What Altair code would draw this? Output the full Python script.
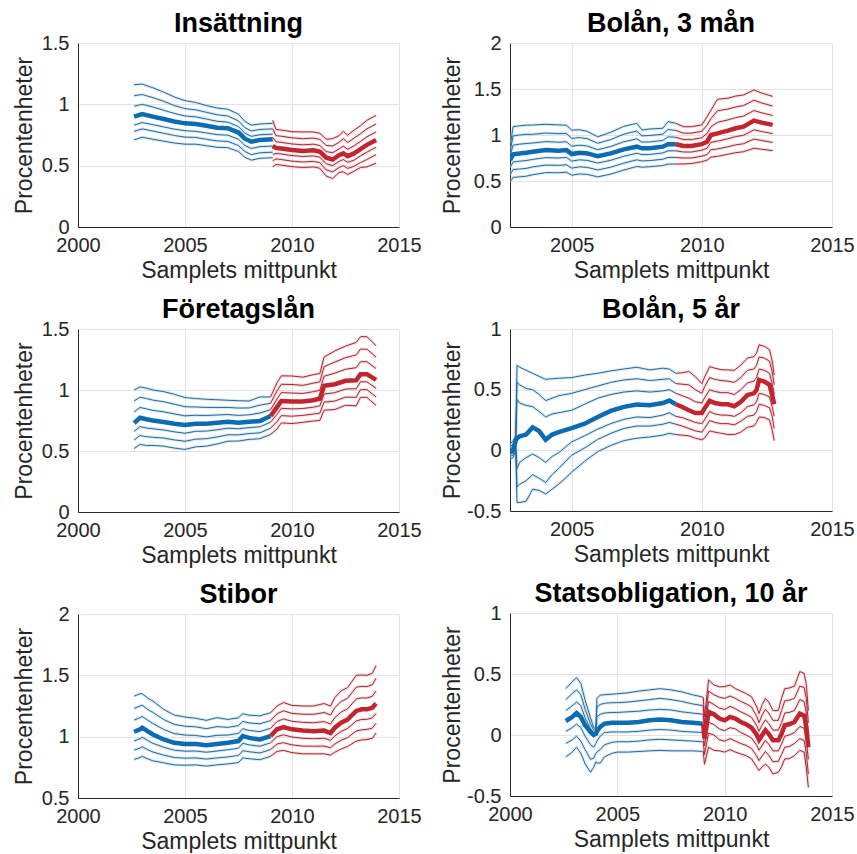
import altair as alt
import pandas as pd

FONT = "Liberation Sans"
BLUE_MID, RED_MID = "#0b6cb2", "#c1262f"
BLUE_LINE, RED_LINE = "#2c6894", "#a02a37"
BLUE_HALO, RED_HALO = "#a9d3ee", "#f1b4ba"

# ---------------- Insättning (band lines as offsets from the median) ----------------
ins_b_t = [2002.62, 2003.0, 2003.5, 2004.0, 2004.5, 2005.0, 2005.5, 2006.0, 2006.5, 2007.0, 2007.5, 2007.8, 2008.1, 2008.5, 2009.1]
ins_b_mid = [0.90, 0.92, 0.90, 0.88, 0.86, 0.845, 0.84, 0.825, 0.81, 0.805, 0.77, 0.72, 0.695, 0.71, 0.715]
ins_b_bands = [
    [0.26, 0.245, 0.235, 0.22, 0.2, 0.185, 0.175, 0.165, 0.16, 0.155, 0.15, 0.14, 0.135, 0.13, 0.13],
    [0.17, 0.16, 0.155, 0.145, 0.13, 0.12, 0.115, 0.11, 0.105, 0.1, 0.095, 0.09, 0.088, 0.085, 0.085],
    [0.085, 0.08, 0.078, 0.072, 0.066, 0.06, 0.058, 0.055, 0.052, 0.05, 0.048, 0.045, 0.044, 0.042, 0.042],
    [-0.07, -0.068, -0.066, -0.064, -0.062, -0.06, -0.06, -0.058, -0.057, -0.056, -0.055, -0.055, -0.055, -0.055, -0.055],
    [-0.12, -0.12, -0.118, -0.116, -0.114, -0.112, -0.11, -0.11, -0.108, -0.107, -0.106, -0.105, -0.105, -0.105, -0.105],
    [-0.19, -0.188, -0.185, -0.18, -0.175, -0.17, -0.165, -0.162, -0.16, -0.158, -0.155, -0.152, -0.15, -0.15, -0.15],
]
ins_r_t = [2009.1, 2009.25, 2009.5, 2010.0, 2010.5, 2011.0, 2011.3, 2011.6, 2011.9, 2012.2, 2012.4, 2012.6, 2012.9, 2013.2, 2013.5, 2013.93]
ins_r_mid = [0.66, 0.645, 0.64, 0.627, 0.62, 0.625, 0.614, 0.565, 0.55, 0.585, 0.6, 0.578, 0.6, 0.635, 0.67, 0.71]
ins_r_bands = [
    [0.21, 0.15, 0.15, 0.15, 0.155, 0.15, 0.15, 0.15, 0.17, 0.16, 0.18, 0.17, 0.19, 0.19, 0.2, 0.2],
    [0.14, 0.1, 0.1, 0.1, 0.1, 0.1, 0.1, 0.1, 0.11, 0.105, 0.12, 0.11, 0.125, 0.125, 0.13, 0.13],
    [0.07, 0.05, 0.05, 0.05, 0.05, 0.05, 0.05, 0.05, 0.055, 0.052, 0.06, 0.055, 0.062, 0.062, 0.065, 0.065],
    [-0.07, -0.045, -0.045, -0.045, -0.045, -0.045, -0.045, -0.05, -0.05, -0.05, -0.05, -0.05, -0.055, -0.055, -0.06, -0.06],
    [-0.12, -0.09, -0.09, -0.09, -0.09, -0.09, -0.09, -0.1, -0.1, -0.1, -0.1, -0.1, -0.105, -0.11, -0.12, -0.12],
    [-0.17, -0.135, -0.135, -0.135, -0.135, -0.135, -0.135, -0.15, -0.155, -0.14, -0.15, -0.15, -0.145, -0.15, -0.18, -0.19],
]

# ---------------- Bolån, 3 mån (offsets) ----------------
b3_b_t = [2002.63, 2002.75, 2003.0, 2003.25, 2003.5, 2004.0, 2004.5, 2004.8, 2005.0, 2005.3, 2005.6, 2006.0, 2006.5, 2007.0, 2007.5, 2007.7, 2008.0, 2008.5, 2008.7, 2009.0]
b3_b_mid = [0.727, 0.79, 0.8, 0.807, 0.818, 0.836, 0.83, 0.836, 0.793, 0.807, 0.8, 0.77, 0.8, 0.844, 0.873, 0.855, 0.855, 0.873, 0.9, 0.9]
b3_b_bands = [
    [0.14, 0.3, 0.3, 0.3, 0.29, 0.28, 0.28, 0.27, 0.26, 0.25, 0.24, 0.21, 0.23, 0.25, 0.254, 0.2, 0.21, 0.2, 0.245, 0.227],
    [0.09, 0.2, 0.2, 0.2, 0.19, 0.185, 0.185, 0.18, 0.17, 0.165, 0.16, 0.14, 0.15, 0.165, 0.17, 0.135, 0.14, 0.135, 0.16, 0.15],
    [0.045, 0.1, 0.1, 0.1, 0.095, 0.092, 0.092, 0.09, 0.085, 0.082, 0.08, 0.07, 0.075, 0.082, 0.085, 0.068, 0.07, 0.068, 0.08, 0.075],
    [-0.08, -0.083, -0.085, -0.085, -0.083, -0.082, -0.08, -0.08, -0.077, -0.077, -0.076, -0.075, -0.075, -0.075, -0.072, -0.068, -0.067, -0.068, -0.072, -0.072],
    [-0.16, -0.165, -0.17, -0.17, -0.165, -0.163, -0.16, -0.16, -0.153, -0.153, -0.152, -0.15, -0.15, -0.15, -0.143, -0.137, -0.133, -0.137, -0.144, -0.144],
    [-0.24, -0.25, -0.255, -0.255, -0.25, -0.245, -0.24, -0.24, -0.23, -0.23, -0.228, -0.225, -0.225, -0.225, -0.215, -0.205, -0.2, -0.205, -0.216, -0.216],
]
b3_r_t = [2009.0, 2009.3, 2009.6, 2010.0, 2010.2, 2010.35, 2010.6, 2011.0, 2011.3, 2011.6, 2012.0, 2012.3, 2012.72]
b3_r_mid = [0.9, 0.88, 0.88, 0.9, 0.927, 1.0, 1.018, 1.047, 1.073, 1.09, 1.156, 1.135, 1.11]
b3_r_bands = [
    [0.227, 0.21, 0.21, 0.21, 0.27, 0.27, 0.37, 0.353, 0.35, 0.345, 0.334, 0.32, 0.31],
    [0.15, 0.14, 0.14, 0.14, 0.18, 0.18, 0.245, 0.235, 0.232, 0.23, 0.222, 0.213, 0.205],
    [0.075, 0.07, 0.07, 0.07, 0.09, 0.09, 0.12, 0.117, 0.116, 0.115, 0.11, 0.106, 0.102],
    [-0.072, -0.065, -0.065, -0.065, -0.07, -0.08, -0.085, -0.088, -0.09, -0.093, -0.1, -0.097, -0.095],
    [-0.144, -0.13, -0.13, -0.13, -0.14, -0.16, -0.17, -0.175, -0.18, -0.185, -0.2, -0.195, -0.19],
    [-0.216, -0.195, -0.19, -0.19, -0.2, -0.24, -0.25, -0.257, -0.265, -0.272, -0.3, -0.29, -0.28],
]

# ---------------- Företagslån (offsets) ----------------
fl_b_t = [2002.62, 2002.9, 2003.2, 2003.5, 2004.0, 2004.5, 2005.0, 2005.5, 2006.0, 2006.5, 2007.0, 2007.5, 2008.0, 2008.5, 2009.0]
fl_b_mid = [0.73, 0.773, 0.76, 0.75, 0.738, 0.724, 0.713, 0.724, 0.724, 0.732, 0.74, 0.732, 0.74, 0.746, 0.787]
fl_b_bands = [
    [0.27, 0.252, 0.255, 0.25, 0.249, 0.241, 0.225, 0.206, 0.2, 0.188, 0.176, 0.18, 0.17, 0.197, 0.156],
    [0.18, 0.168, 0.17, 0.167, 0.166, 0.16, 0.15, 0.137, 0.133, 0.125, 0.117, 0.12, 0.113, 0.13, 0.104],
    [0.09, 0.084, 0.085, 0.083, 0.083, 0.08, 0.075, 0.069, 0.067, 0.063, 0.059, 0.06, 0.057, 0.065, 0.052],
    [-0.07, -0.073, -0.072, -0.068, -0.066, -0.067, -0.067, -0.063, -0.061, -0.058, -0.053, -0.05, -0.048, -0.048, -0.05],
    [-0.14, -0.146, -0.143, -0.137, -0.132, -0.133, -0.133, -0.127, -0.123, -0.117, -0.107, -0.1, -0.097, -0.097, -0.1],
    [-0.21, -0.219, -0.215, -0.205, -0.198, -0.2, -0.2, -0.19, -0.184, -0.175, -0.16, -0.15, -0.145, -0.145, -0.151],
]
fl_r_t = [2009.0, 2009.3, 2009.5, 2010.0, 2010.5, 2011.0, 2011.3, 2011.5, 2012.0, 2012.5, 2013.0, 2013.2, 2013.5, 2013.93]
fl_r_mid = [0.787, 0.86, 0.91, 0.905, 0.905, 0.916, 0.93, 1.034, 1.047, 1.075, 1.08, 1.13, 1.13, 1.083]
fl_r_bands = [
    [0.156, 0.2, 0.206, 0.21, 0.2, 0.21, 0.205, 0.236, 0.273, 0.285, 0.31, 0.307, 0.307, 0.28],
    [0.104, 0.133, 0.137, 0.14, 0.133, 0.14, 0.137, 0.157, 0.182, 0.19, 0.207, 0.205, 0.205, 0.187],
    [0.052, 0.067, 0.069, 0.07, 0.067, 0.07, 0.068, 0.079, 0.091, 0.095, 0.103, 0.102, 0.102, 0.093],
    [-0.05, -0.06, -0.06, -0.06, -0.057, -0.057, -0.06, -0.067, -0.069, -0.067, -0.07, -0.063, -0.063, -0.07],
    [-0.1, -0.12, -0.12, -0.12, -0.113, -0.113, -0.12, -0.133, -0.138, -0.133, -0.14, -0.127, -0.127, -0.14],
    [-0.151, -0.18, -0.18, -0.18, -0.17, -0.17, -0.18, -0.2, -0.207, -0.2, -0.21, -0.19, -0.19, -0.21],
]

# ---------------- Bolån, 5 år (band lines as read values) ----------------
b5_b_t = [2002.63, 2002.75, 2002.85, 2002.9, 2003.0, 2003.25, 2003.5, 2003.75, 2004.0, 2004.25, 2004.5, 2005.0, 2005.5, 2006.0, 2006.5, 2007.0, 2007.5, 2008.0, 2008.5, 2008.75, 2009.0]
b5_b_mid = [-0.015, 0.0, 0.08, 0.1, 0.115, 0.13, 0.19, 0.16, 0.087, 0.13, 0.15, 0.183, 0.22, 0.275, 0.325, 0.358, 0.378, 0.372, 0.39, 0.41, 0.38]
b5_b_bands = [
    [0.05, 0.08, 0.12, 0.70, 0.685, 0.66, 0.635, 0.61, 0.585, 0.59, 0.594, 0.60, 0.62, 0.635, 0.655, 0.67, 0.685, 0.663, 0.677, 0.67, 0.635],
    [0.03, 0.05, 0.1, 0.56, 0.54, 0.51, 0.5, 0.46, 0.41, 0.43, 0.45, 0.47, 0.5, 0.53, 0.56, 0.58, 0.59, 0.575, 0.585, 0.59, 0.55],
    [0.01, 0.03, 0.09, 0.42, 0.39, 0.37, 0.36, 0.32, 0.275, 0.3, 0.31, 0.33, 0.38, 0.43, 0.46, 0.48, 0.49, 0.48, 0.49, 0.5, 0.47],
    [-0.03, -0.02, 0.06, -0.15, -0.1, -0.06, -0.03, -0.06, -0.1, -0.05, -0.02, 0.07, 0.12, 0.175, 0.22, 0.255, 0.275, 0.27, 0.29, 0.31, 0.28],
    [-0.05, -0.04, 0.03, -0.3, -0.28, -0.25, -0.2, -0.23, -0.265, -0.2, -0.15, -0.04, 0.02, 0.09, 0.14, 0.18, 0.2, 0.2, 0.215, 0.23, 0.215],
    [-0.07, -0.06, 0.0, -0.43, -0.43, -0.42, -0.32, -0.33, -0.36, -0.32, -0.28, -0.18, -0.09, -0.01, 0.04, 0.08, 0.1, 0.11, 0.125, 0.14, 0.13],
]
b5_r_t = [2009.0, 2009.25, 2009.5, 2009.75, 2010.0, 2010.1, 2010.3, 2010.5, 2010.75, 2011.0, 2011.25, 2011.5, 2011.75, 2012.0, 2012.1, 2012.2, 2012.4, 2012.6, 2012.7, 2012.78]
b5_r_mid = [0.38, 0.357, 0.33, 0.308, 0.308, 0.344, 0.408, 0.39, 0.38, 0.38, 0.364, 0.4, 0.455, 0.47, 0.497, 0.58, 0.566, 0.54, 0.455, 0.38]
b5_r_bands = [
    [0.635, 0.64, 0.65, 0.607, 0.55, 0.6, 0.69, 0.677, 0.665, 0.663, 0.66, 0.703, 0.76, 0.773, 0.8, 0.87, 0.857, 0.83, 0.74, 0.62],
    [0.55, 0.545, 0.54, 0.5, 0.47, 0.52, 0.6, 0.585, 0.575, 0.57, 0.56, 0.6, 0.66, 0.67, 0.7, 0.77, 0.76, 0.735, 0.65, 0.54],
    [0.47, 0.45, 0.43, 0.4, 0.39, 0.43, 0.5, 0.485, 0.475, 0.475, 0.46, 0.5, 0.555, 0.57, 0.6, 0.67, 0.66, 0.635, 0.55, 0.46],
    [0.28, 0.27, 0.25, 0.23, 0.22, 0.25, 0.32, 0.3, 0.29, 0.29, 0.28, 0.31, 0.36, 0.375, 0.4, 0.47, 0.46, 0.44, 0.36, 0.28],
    [0.215, 0.2, 0.18, 0.16, 0.15, 0.18, 0.245, 0.23, 0.22, 0.22, 0.21, 0.24, 0.28, 0.29, 0.32, 0.38, 0.37, 0.35, 0.28, 0.18],
    [0.13, 0.125, 0.12, 0.1, 0.087, 0.1, 0.16, 0.15, 0.14, 0.13, 0.13, 0.15, 0.19, 0.2, 0.23, 0.275, 0.27, 0.25, 0.17, 0.08],
]

# ---------------- Stibor (offsets) ----------------
st_b_t = [2002.62, 2002.9, 2003.0, 2003.25, 2003.5, 2004.0, 2004.5, 2005.0, 2005.5, 2006.0, 2006.5, 2007.0, 2007.5, 2007.7, 2008.0, 2008.5, 2009.0]
st_b_mid = [1.04, 1.06, 1.073, 1.045, 1.018, 0.977, 0.95, 0.94, 0.94, 0.93, 0.94, 0.95, 0.964, 1.005, 0.99, 0.977, 1.005]
st_b_bands = [
    [0.29, 0.29, 0.277, 0.27, 0.272, 0.246, 0.226, 0.22, 0.21, 0.203, 0.215, 0.19, 0.19, 0.182, 0.185, 0.193, 0.19],
    [0.19, 0.19, 0.183, 0.178, 0.18, 0.163, 0.15, 0.145, 0.14, 0.135, 0.142, 0.126, 0.126, 0.12, 0.122, 0.128, 0.126],
    [0.095, 0.095, 0.092, 0.09, 0.09, 0.082, 0.075, 0.073, 0.07, 0.068, 0.071, 0.063, 0.063, 0.06, 0.061, 0.064, 0.063],
    [-0.075, -0.077, -0.078, -0.075, -0.072, -0.063, -0.06, -0.058, -0.057, -0.057, -0.057, -0.057, -0.058, -0.059, -0.057, -0.055, -0.055],
    [-0.15, -0.153, -0.155, -0.15, -0.143, -0.127, -0.12, -0.115, -0.113, -0.113, -0.113, -0.115, -0.117, -0.119, -0.113, -0.11, -0.11],
    [-0.226, -0.23, -0.233, -0.225, -0.215, -0.19, -0.18, -0.173, -0.17, -0.17, -0.17, -0.172, -0.175, -0.178, -0.17, -0.165, -0.165],
]
st_r_t = [2009.0, 2009.3, 2009.6, 2010.0, 2010.5, 2011.0, 2011.5, 2011.8, 2012.0, 2012.3, 2012.6, 2013.0, 2013.25, 2013.5, 2013.75, 2013.93]
st_r_mid = [1.005, 1.06, 1.078, 1.06, 1.05, 1.045, 1.05, 1.03, 1.073, 1.114, 1.14, 1.21, 1.223, 1.223, 1.236, 1.27]
st_r_bands = [
    [0.19, 0.19, 0.2, 0.195, 0.2, 0.205, 0.22, 0.22, 0.245, 0.26, 0.26, 0.29, 0.28, 0.277, 0.28, 0.31],
    [0.126, 0.126, 0.133, 0.13, 0.133, 0.137, 0.147, 0.147, 0.163, 0.173, 0.173, 0.193, 0.187, 0.185, 0.187, 0.207],
    [0.063, 0.063, 0.067, 0.065, 0.067, 0.068, 0.073, 0.073, 0.082, 0.087, 0.087, 0.097, 0.093, 0.092, 0.093, 0.103],
    [-0.055, -0.06, -0.063, -0.063, -0.063, -0.062, -0.063, -0.06, -0.067, -0.071, -0.073, -0.082, -0.083, -0.082, -0.083, -0.08],
    [-0.11, -0.12, -0.127, -0.127, -0.127, -0.123, -0.127, -0.12, -0.133, -0.143, -0.147, -0.164, -0.167, -0.164, -0.167, -0.16],
    [-0.165, -0.18, -0.19, -0.19, -0.19, -0.185, -0.19, -0.18, -0.2, -0.214, -0.22, -0.246, -0.25, -0.246, -0.25, -0.24],
]

# ---------------- Statsobligation, 10 år (read values) ----------------
so_b_t = [2002.6, 2002.9, 2003.1, 2003.3, 2003.5, 2003.75, 2003.9, 2004.0, 2004.05, 2004.2, 2004.4, 2004.75, 2005.0, 2005.5, 2006.0, 2006.5, 2007.0, 2007.5, 2008.0, 2008.5, 2009.0]
so_b_mid = [0.115, 0.148, 0.18, 0.148, 0.08, 0.025, 0.0, 0.01, 0.03, 0.066, 0.093, 0.1, 0.1, 0.1, 0.107, 0.12, 0.126, 0.12, 0.107, 0.1, 0.093]
so_b_bands = [
    [0.38, 0.437, 0.47, 0.423, 0.285, 0.14, 0.06, 0.05, 0.3, 0.327, 0.33, 0.335, 0.338, 0.346, 0.36, 0.37, 0.38, 0.37, 0.354, 0.33, 0.31],
    [0.29, 0.34, 0.37, 0.33, 0.21, 0.09, 0.04, 0.04, 0.23, 0.25, 0.26, 0.265, 0.265, 0.27, 0.28, 0.29, 0.3, 0.29, 0.275, 0.255, 0.24],
    [0.2, 0.24, 0.27, 0.24, 0.14, 0.05, 0.02, 0.02, 0.15, 0.17, 0.18, 0.185, 0.185, 0.19, 0.195, 0.205, 0.21, 0.205, 0.19, 0.18, 0.17],
    [0.03, 0.06, 0.09, 0.06, -0.01, -0.08, -0.1, -0.07, -0.05, -0.01, 0.02, 0.025, 0.025, 0.025, 0.03, 0.04, 0.045, 0.04, 0.03, 0.025, 0.02],
    [-0.07, -0.04, -0.01, -0.05, -0.12, -0.2, -0.19, -0.15, -0.14, -0.12, -0.08, -0.06, -0.055, -0.055, -0.05, -0.04, -0.035, -0.04, -0.045, -0.05, -0.055],
    [-0.18, -0.14, -0.1, -0.15, -0.236, -0.305, -0.264, -0.22, -0.23, -0.23, -0.18, -0.15, -0.14, -0.14, -0.135, -0.13, -0.126, -0.13, -0.13, -0.13, -0.135],
]
so_r_t = [2009.0, 2009.06, 2009.25, 2009.5, 2009.75, 2010.0, 2010.25, 2010.5, 2010.75, 2011.0, 2011.25, 2011.5, 2011.6, 2011.75, 2011.9, 2012.05, 2012.25, 2012.5, 2012.65, 2012.8, 2013.0, 2013.25, 2013.5, 2013.7, 2013.8, 2013.9]
so_r_mid = [0.09, -0.03, 0.19, 0.17, 0.135, 0.12, 0.148, 0.135, 0.107, 0.088, 0.06, 0.0, -0.04, 0.0, 0.04, 0.01, -0.044, -0.044, 0.01, 0.08, 0.088, 0.107, 0.176, 0.16, 0.066, -0.1]
so_r_bands = [
    [0.31, 0.15, 0.45, 0.41, 0.395, 0.396, 0.41, 0.38, 0.36, 0.34, 0.313, 0.23, 0.176, 0.25, 0.3, 0.27, 0.2, 0.2, 0.3, 0.38, 0.385, 0.4, 0.52, 0.505, 0.42, 0.2],
    [0.24, 0.09, 0.36, 0.33, 0.31, 0.3, 0.32, 0.3, 0.275, 0.255, 0.23, 0.15, 0.1, 0.165, 0.21, 0.18, 0.12, 0.12, 0.2, 0.28, 0.285, 0.3, 0.4, 0.39, 0.3, 0.1],
    [0.17, 0.03, 0.275, 0.25, 0.22, 0.21, 0.235, 0.215, 0.19, 0.17, 0.145, 0.075, 0.03, 0.085, 0.125, 0.095, 0.04, 0.04, 0.1, 0.18, 0.185, 0.2, 0.29, 0.275, 0.18, 0.0],
    [0.02, -0.09, 0.105, 0.085, 0.05, 0.035, 0.06, 0.05, 0.02, 0.0, -0.025, -0.085, -0.125, -0.085, -0.045, -0.075, -0.13, -0.13, -0.075, -0.01, 0.0, 0.02, 0.07, 0.055, -0.04, -0.2],
    [-0.05, -0.16, 0.015, 0.0, -0.04, -0.05, -0.03, -0.05, -0.07, -0.085, -0.11, -0.175, -0.21, -0.17, -0.135, -0.165, -0.22, -0.215, -0.16, -0.1, -0.095, -0.07, -0.03, -0.045, -0.15, -0.32],
    [-0.13, -0.24, -0.1, -0.126, -0.13, -0.14, -0.12, -0.14, -0.155, -0.17, -0.195, -0.264, -0.29, -0.26, -0.24, -0.26, -0.32, -0.305, -0.26, -0.195, -0.195, -0.17, -0.126, -0.14, -0.264, -0.43],
]


def segment(t, mid, bands, relative):
    assert len(t) == len(mid), (len(t), len(mid))
    mid_df = pd.DataFrame({"t": t, "v": mid})
    rows = []
    for k, band in enumerate(bands):
        assert len(band) == len(t), (k, len(band), len(t))
        vals = [m + d for m, d in zip(mid, band)] if relative else band
        for ti, vi in zip(t, vals):
            rows.append({"t": ti, "v": vi, "line": f"b{k}"})
    return mid_df, pd.DataFrame(rows)


def panel(title, blue, red, ydom, yticks, xdom, xticks, w, h, yext):
    xs = alt.Scale(domain=xdom, nice=False, zero=False)
    ys = alt.Scale(domain=ydom, nice=False, zero=False)
    xa = alt.Axis(values=xticks, format="d", title="Samplets mittpunkt",
                  labelBaseline="middle", labelPadding=18, labelFlush=False, labelOverlap=False,
                  minExtent=30, maxExtent=30, titlePadding=20, titleBaseline="alphabetic")
    ya = alt.Axis(values=yticks, title="Procentenheter",
                  labelExpr="datum.value < 0 ? '-' + format(-datum.value, '~g') : format(datum.value, '~g')",
                  labelBaseline="middle", labelAlign="right", labelPadding=9, labelOverlap=False, labelFlush=False,
                  minExtent=yext, maxExtent=yext, titlePadding=0,
                  titleAngle=270, titleBaseline="alphabetic", titleAlign="center")
    X = alt.X("t:Q", scale=xs, axis=xa)
    Y = alt.Y("v:Q", scale=ys, axis=ya)
    layers = []
    for (mid_df, band_df), halo, line, midc in [(blue, BLUE_HALO, BLUE_LINE, BLUE_MID),
                                                (red, RED_HALO, RED_LINE, RED_MID)]:
        layers.append(alt.Chart(band_df).mark_line(strokeWidth=3, color=halo, opacity=0.5, clip=True)
                      .encode(x=X, y=Y, detail="line:N"))
        layers.append(alt.Chart(band_df).mark_line(strokeWidth=1, color=line, clip=True)
                      .encode(x=X, y=Y, detail="line:N"))
        layers.append(alt.Chart(mid_df).mark_line(strokeWidth=4.5, color=midc, clip=True)
                      .encode(x=X, y=Y))
    return alt.layer(*layers).properties(
        width=w, height=h,
        title=alt.TitleParams(title, font=FONT, fontSize=27, fontWeight="bold", color="black",
                              anchor="middle", frame="group", baseline="bottom", offset=-32),
    )


FULL = [2000, 2005, 2010, 2015]
p1 = panel("Insättning", segment(ins_b_t, ins_b_mid, ins_b_bands, True), segment(ins_r_t, ins_r_mid, ins_r_bands, True),
           [0, 1.5], [0, 0.5, 1, 1.5], [2000, 2015], FULL, 321, 184, 47)
p2 = panel("Bolån, 3 mån", segment(b3_b_t, b3_b_mid, b3_b_bands, True), segment(b3_r_t, b3_r_mid, b3_r_bands, True),
           [0, 2], [0, 0.5, 1, 1.5, 2], [2002.63, 2015], [2005, 2010, 2015], 322, 184, 51)
p3 = panel("Företagslån", segment(fl_b_t, fl_b_mid, fl_b_bands, True), segment(fl_r_t, fl_r_mid, fl_r_bands, True),
           [0, 1.5], [0, 0.5, 1, 1.5], [2000, 2015], FULL, 321, 183, 47)
p4 = panel("Bolån, 5 år", segment(b5_b_t, b5_b_mid, b5_b_bands, False), segment(b5_r_t, b5_r_mid, b5_r_bands, False),
           [-0.5, 1], [-0.5, 0, 0.5, 1], [2002.63, 2015], [2005, 2010, 2015], 322, 182, 51)
p5 = panel("Stibor", segment(st_b_t, st_b_mid, st_b_bands, True), segment(st_r_t, st_r_mid, st_r_bands, True),
           [0.5, 2], [0.5, 1, 1.5, 2], [2000, 2015], FULL, 321, 184, 47)
p6 = panel("Statsobligation, 10 år", segment(so_b_t, so_b_mid, so_b_bands, False), segment(so_r_t, so_r_mid, so_r_bands, False),
           [-0.5, 1], [-0.5, 0, 0.5, 1], [2000, 2015], FULL, 322, 183, 51)

left = alt.vconcat(p1, p3, p5, spacing=14)
right = alt.vconcat(p2, p4, p6, spacing=14)

chart = (
    alt.hconcat(left, right, spacing=18)
    .properties(padding={"left": 12, "top": 10, "right": 0, "bottom": 0}, background="white")
    .configure_view(stroke=None)
    .configure_axis(
        domainColor="#262626", domainWidth=1, gridColor="#e3e3e3", gridWidth=1,
        ticks=False, tickSize=0,
        labelFont=FONT, labelFontSize=20, labelColor="#262626",
        titleFont=FONT, titleFontSize=23, titleFontWeight="normal", titleColor="#262626",
    )
)

chart.save("out.html", embed_options={"renderer": "svg", "actions": False})
